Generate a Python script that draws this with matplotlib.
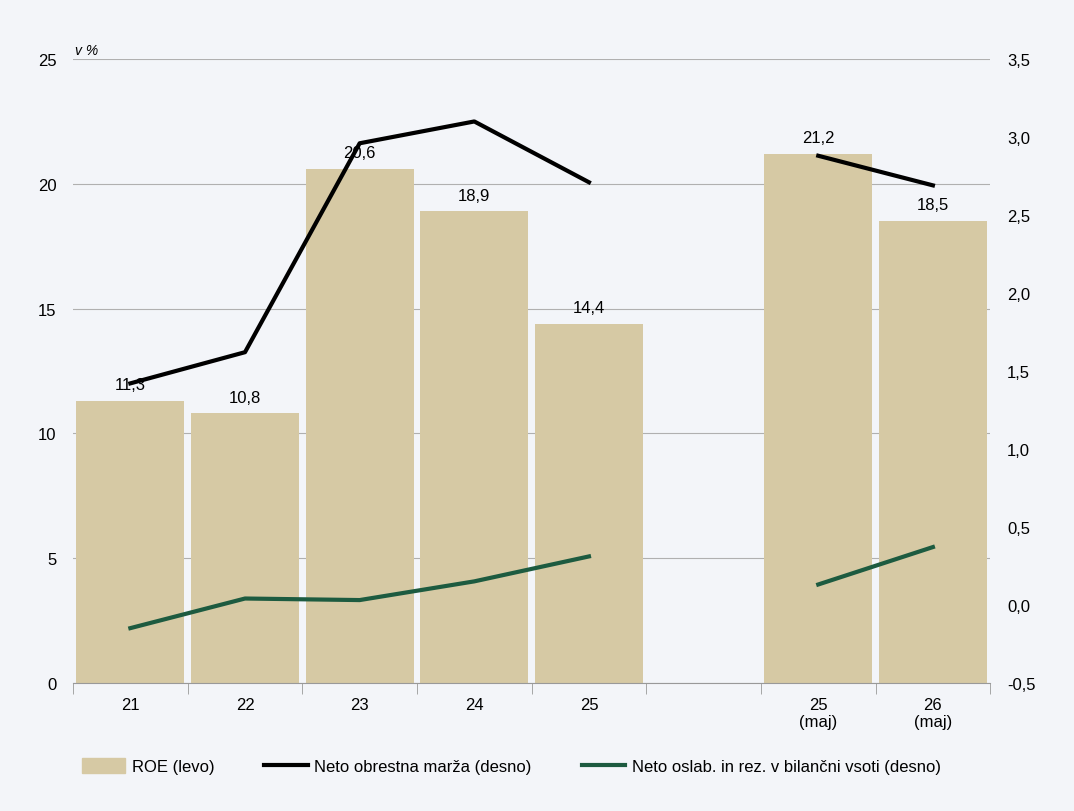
import matplotlib
matplotlib.use("Agg")
import matplotlib.pyplot as plt
import numpy as np

plt.rcParams['font.family'] = ['Liberation Sans Narrow', 'Liberation Sans', 'DejaVu Sans']

labels = ["21", "22", "23", "24", "25", "", "25\n(maj)", "26\n(maj)"]
roe = [11.3, 10.8, 20.6, 18.9, 14.4, None, 21.2, 18.5]
nim = [1.42, 1.62, 2.96, 3.10, 2.71, None, 2.88, 2.69]
imp = [-0.15, 0.04, 0.03, 0.15, 0.31, None, 0.13, 0.37]

bg = '#f3f5f9'
fig = plt.figure(figsize=(10.74, 8.12), dpi=100, facecolor=bg)
ax = fig.add_axes([0.068, 0.158, 0.854, 0.768], facecolor=bg)
x = np.arange(len(labels))
for i, v in enumerate(roe):
    if v is not None:
        ax.bar(i, v, width=0.94, color='#d6c9a4', zorder=2)
        ax.text(i, v + 0.35, f"{v:.1f}".replace('.', ','), ha='center', va='bottom', fontsize=12, zorder=5)
ax.set_xlim(-0.5, 7.5)
ax.set_ylim(0, 25)
ax.set_yticks(range(0, 26, 5))
ax.grid(axis='y', color='#b0b0b0', lw=0.8, zorder=0)
ax.set_xticks(x)
ax.set_xticklabels(labels, fontsize=12)
ax.set_xticks(np.arange(-0.5, 8, 1), minor=True)
ax.tick_params(axis='x', which='major', length=0, pad=10)
ax.tick_params(axis='x', which='minor', length=8, color='#999999')
ax.tick_params(axis='y', length=0, labelsize=12, pad=12)
for s in ['top', 'right', 'left']:
    ax.spines[s].set_visible(False)
ax.spines['bottom'].set_color('#999999')
ax.text(-0.48, 25.1, "v %", fontsize=10, style='italic', va='bottom')

ax2 = ax.twinx()
ax2.set_ylim(-0.5, 3.5)
ax2.set_yticks(np.arange(-0.5, 3.51, 0.5))
ax2.set_yticklabels([f"{v:.1f}".replace('.', ',') for v in np.arange(-0.5, 3.51, 0.5)])
ax2.tick_params(axis='y', length=0, labelsize=12, pad=12)
for s in ax2.spines.values():
    s.set_visible(False)

for data, col in [(nim, 'black'), (imp, '#1d5b40')]:
    for seg in [(0, 5), (6, 8)]:
        ax2.plot(x[seg[0]:seg[1]], data[seg[0]:seg[1]], color=col, lw=3, zorder=4)

from matplotlib.patches import Patch
from matplotlib.lines import Line2D
handles = [Patch(color='#d6c9a4', label='ROE (levo)'),
           Line2D([], [], color='black', lw=3, label='Neto obrestna marža (desno)'),
           Line2D([], [], color='#1d5b40', lw=3, label='Neto oslab. in rez. v bilančni vsoti (desno)')]
fig.legend(handles=handles, loc='center left', bbox_to_anchor=(0.062, 0.055), ncol=3,
           frameon=False, fontsize=12, columnspacing=3, handlelength=2.6, handletextpad=0.4,
           handleheight=1.0)
fig.savefig('out.png', dpi=100, facecolor=bg)
